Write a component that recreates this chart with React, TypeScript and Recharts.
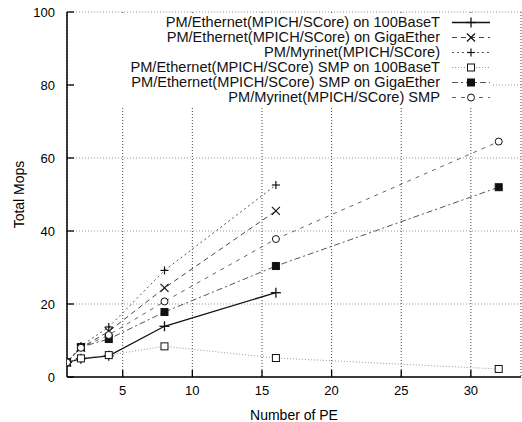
import React from 'react';
import { LineChart, Line, XAxis, YAxis, CartesianGrid, Legend } from 'recharts';

// number of processing elements
const pe = [1, 2, 4, 8, 16, 32];

// Total Mops per configuration (null = not measured)
const eth100 = [4.0, 5.0, 5.8, 13.9, 23.1, null];
const ethGiga = [4.0, 8.0, 12.5, 24.4, 45.5, null];
const myrinet = [4.0, 8.5, 13.7, 29.2, 52.6, null];
const smpEth100 = [4.0, 5.1, 6.0, 8.4, 5.2, 2.2];
const smpEthGiga = [4.0, 8.2, 10.4, 17.8, 30.4, 52.0];
const smpMyrinet = [4.0, 8.0, 11.5, 20.7, 37.8, 64.5];

const xTicks = [5, 10, 15, 20, 25, 30];
const yTicks = [0, 20, 40, 60, 80, 100];

const data = pe.map((n, i) => ({
  pe: n,
  eth100: eth100[i],
  ethGiga: ethGiga[i],
  myrinet: myrinet[i],
  smpEth100: smpEth100[i],
  smpEthGiga: smpEthGiga[i],
  smpMyrinet: smpMyrinet[i],
}));

type MarkKind = 'plus' | 'cross' | 'smallPlus' | 'square' | 'fillSquare' | 'circle';

const series: { key: string; name: string; stroke: string; dash?: string; width: number; mark: MarkKind }[] = [
  { key: 'eth100', name: 'PM/Ethernet(MPICH/SCore) on 100BaseT', stroke: '#111', width: 1.3, mark: 'plus' },
  { key: 'ethGiga', name: 'PM/Ethernet(MPICH/SCore) on GigaEther', stroke: '#444', dash: '5 4', width: 1, mark: 'cross' },
  { key: 'myrinet', name: 'PM/Myrinet(MPICH/SCore)', stroke: '#555', dash: '2 3', width: 1, mark: 'smallPlus' },
  { key: 'smpEth100', name: 'PM/Ethernet(MPICH/SCore) SMP on 100BaseT', stroke: '#999', dash: '1 2', width: 1, mark: 'square' },
  { key: 'smpEthGiga', name: 'PM/Ethernet(MPICH/SCore) SMP on GigaEther', stroke: '#555', dash: '6 3 2 3', width: 1, mark: 'fillSquare' },
  { key: 'smpMyrinet', name: 'PM/Myrinet(MPICH/SCore) SMP', stroke: '#666', dash: '4 5', width: 1, mark: 'circle' },
];

function Marker({ kind, cx, cy }: { kind: MarkKind; cx: number; cy: number }) {
  const s = '#111';
  switch (kind) {
    case 'plus':
      return (
        <g stroke={s} strokeWidth={1.3}>
          <line x1={cx - 5} y1={cy} x2={cx + 5} y2={cy} />
          <line x1={cx} y1={cy - 5} x2={cx} y2={cy + 5} />
        </g>
      );
    case 'cross':
      return (
        <g stroke={s} strokeWidth={1.2}>
          <line x1={cx - 4} y1={cy - 4} x2={cx + 4} y2={cy + 4} />
          <line x1={cx - 4} y1={cy + 4} x2={cx + 4} y2={cy - 4} />
        </g>
      );
    case 'smallPlus':
      return (
        <g stroke={s} strokeWidth={1.2}>
          <line x1={cx - 4} y1={cy} x2={cx + 4} y2={cy} />
          <line x1={cx} y1={cy - 4} x2={cx} y2={cy + 4} />
        </g>
      );
    case 'square':
      return <rect x={cx - 3.5} y={cy - 3.5} width={7} height={7} fill="#fff" stroke={s} strokeWidth={1} />;
    case 'fillSquare':
      return <rect x={cx - 3.5} y={cy - 3.5} width={7} height={7} fill={s} stroke={s} strokeWidth={1} />;
    default:
      return <circle cx={cx} cy={cy} r={3.5} fill="#fff" stroke={s} strokeWidth={1} />;
  }
}

const dotFor = (kind: MarkKind) => (p: any) => {
  if (p.cx == null || p.cy == null || p.value == null) return <g key={p.index} />;
  return <Marker key={p.index} kind={kind} cx={p.cx} cy={p.cy} />;
};

function KeyBox() {
  return (
    <div style={{ background: '#fff', paddingRight: 3, paddingBottom: 3 }}>
      {series.map((s) => (
        <div
          key={s.key}
          style={{ display: 'flex', justifyContent: 'flex-end', alignItems: 'center', height: 15, fontSize: 14.6, lineHeight: '15px', color: '#111', whiteSpace: 'nowrap' }}
        >
          <span>{s.name}</span>
          <svg width={38} height={15} style={{ marginLeft: 12, flex: 'none' }}>
            <line x1={0} y1={7.5} x2={38} y2={7.5} stroke={s.stroke} strokeWidth={s.width} strokeDasharray={s.dash} />
            <Marker kind={s.mark} cx={19} cy={7.5} />
          </svg>
        </div>
      ))}
    </div>
  );
}

export default function App() {
  return (
    <div style={{ position: 'absolute', left: 0, top: 0, width: 522, height: 422, background: '#fff', fontFamily: '"Liberation Sans", Arial, sans-serif' }}>
      <LineChart width={522} height={422} data={data} margin={{ top: 12, right: 0, left: 0, bottom: 0 }}>
        <CartesianGrid xAxisId="b" yAxisId="l" vertical={false} stroke="#999" strokeDasharray="1 2" />
        <CartesianGrid xAxisId="b" yAxisId="l" horizontal={false} stroke="#444" strokeDasharray="1 2" />
        <XAxis
          xAxisId="b"
          type="number"
          dataKey="pe"
          domain={[1, 33.6]}
          ticks={xTicks}
          allowDataOverflow
          height={45}
          tickSize={-7}
          tickMargin={16}
          axisLine={{ stroke: '#000', strokeWidth: 1.5 }}
          tickLine={{ stroke: '#000', strokeWidth: 1.3 }}
          tick={{ fontSize: 13, fill: '#000' }}
          label={{ value: 'Number of PE', position: 'insideBottom', offset: 2, fontSize: 14, fill: '#000' }}
        />
        <XAxis
          xAxisId="t"
          orientation="top"
          type="number"
          dataKey="pe"
          domain={[1, 33.6]}
          ticks={xTicks}
          allowDataOverflow
          height={0}
          tickSize={-7}
          tick={false}
          axisLine={{ stroke: '#000', strokeWidth: 1.5 }}
          tickLine={{ stroke: '#000', strokeWidth: 1.3 }}
        />
        <YAxis
          yAxisId="l"
          type="number"
          domain={[0, 100]}
          ticks={yTicks}
          allowDataOverflow
          width={67}
          tickSize={-7}
          tickMargin={19}
          axisLine={{ stroke: '#000', strokeWidth: 1.5 }}
          tickLine={{ stroke: '#000', strokeWidth: 1.3 }}
          tick={{ fontSize: 13, fill: '#000' }}
          label={{ value: 'Total Mops', angle: -90, position: 'center', dx: -14, fontSize: 14, fill: '#000' }}
        />
        <YAxis
          yAxisId="r"
          orientation="right"
          type="number"
          domain={[0, 100]}
          ticks={yTicks}
          allowDataOverflow
          width={1}
          tickSize={-7}
          tick={false}
          axisLine={false}
          tickLine={{ stroke: '#000', strokeWidth: 1.3 }}
        />
        <Legend
          layout="vertical"
          align="center"
          verticalAlign="middle"
          content={() => <KeyBox />}
          wrapperStyle={{ left: 75, top: 15, width: 418 }}
        />
        {series.map((s) => (
          <Line
            key={s.key}
            xAxisId="b"
            yAxisId="l"
            dataKey={s.key}
            name={s.name}
            type="linear"
            stroke={s.stroke}
            strokeWidth={s.width}
            strokeDasharray={s.dash}
            dot={dotFor(s.mark)}
            activeDot={false}
            isAnimationActive={false}
          />
        ))}
      </LineChart>
    </div>
  );
}
